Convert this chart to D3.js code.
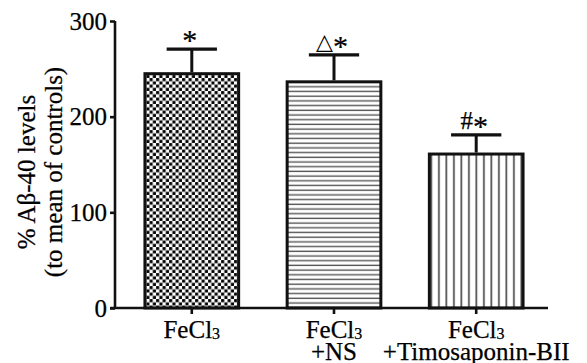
<!DOCTYPE html>
<html lang="en">
<head>
    <meta charset="UTF-8">
    <title>Aβ-40 levels</title>
    <script src="https://cdn.jsdelivr.net/npm/d3@7/dist/d3.min.js"></script>
    <style>
        body { margin: 0; background: #fff; }
        text { font-family: "Liberation Serif", "Times New Roman", "DejaVu Serif", serif; fill: #000; stroke: #000; stroke-width: 0.25px; }
    </style>
</head>
<body>
<svg width="587" height="363" id="chart"></svg>

<script>
    // data
    var groups = ["FeCl3", "FeCl3+NS", "FeCl3+Timosaponin-BII"];
    var labelLine1 = ["FeCl", "FeCl", "FeCl"];
    var labelSub = ["3", "3", "3"];
    var labelLine2 = ["", "+NS", "+Timosaponin-BII"];
    var means = [246.5, 238, 162.5];
    var sems = [24, 26.5, 18.5];
    var marks = ["*", "△*", "#*"];
    var yTicks = [0, 100, 200, 300];
    var patterns = ["checks", "hlines", "vlines"];

    var svg = d3.select("#chart");

    var x = d3.scaleBand()
        .domain(groups)
        .range([115, 553])
        .paddingInner(0.32)
        .paddingOuter(0.2);

    var y = d3.scaleLinear()
        .domain([0, 300])
        .range([308, 21]);

    // 填充图案
    var defs = svg.append("defs");

    var p1 = defs.append("pattern")
        .attr("id", "checks")
        .attr("patternUnits", "userSpaceOnUse")
        .attr("width", 6.5).attr("height", 6.5);
    p1.append("rect").attr("width", 6.5).attr("height", 6.5).attr("fill", "#fff");
    p1.append("rect").attr("x", 0.1).attr("y", 0.1).attr("width", 3.1).attr("height", 3.1).attr("fill", "#000");
    p1.append("rect").attr("x", 3.35).attr("y", 3.35).attr("width", 3.1).attr("height", 3.1).attr("fill", "#000");

    var p2 = defs.append("pattern")
        .attr("id", "hlines")
        .attr("patternUnits", "userSpaceOnUse")
        .attr("width", 10).attr("height", 4.7);
    p2.append("rect").attr("width", 10).attr("height", 4.7).attr("fill", "#fff");
    p2.append("rect").attr("y", 1.5).attr("width", 10).attr("height", 1.4).attr("fill", "#555");

    var p3 = defs.append("pattern")
        .attr("id", "vlines")
        .attr("patternUnits", "userSpaceOnUse")
        .attr("width", 7.5).attr("height", 10);
    p3.append("rect").attr("width", 7.5).attr("height", 10).attr("fill", "#fff");
    p3.append("rect").attr("x", 3).attr("width", 1.8).attr("height", 10).attr("fill", "#555");

    // 误差线
    var err = svg.append("g");
    groups.forEach(function (g, i) {
        var cx = x(g) + x.bandwidth() / 2;
        var capHalf = x.bandwidth() * 0.26;
        err.append("line")
            .attr("x1", cx).attr("x2", cx)
            .attr("y1", y(means[i])).attr("y2", y(means[i] + sems[i]))
            .attr("stroke", "#111").attr("stroke-width", 3);
        err.append("line")
            .attr("x1", cx - capHalf).attr("x2", cx + capHalf)
            .attr("y1", y(means[i] + sems[i])).attr("y2", y(means[i] + sems[i]))
            .attr("stroke", "#111").attr("stroke-width", 3.2);
    });

    // 柱子
    svg.append("g").selectAll("rect")
        .data(groups)
        .enter()
        .append("rect")
        .attr("x", function (d) { return x(d) + 1.5; })
        .attr("y", function (d, i) { return y(means[i]) + 1.5; })
        .attr("width", x.bandwidth() - 3)
        .attr("height", function (d, i) { return y(0) - y(means[i]) - 1.5; })
        .attr("fill", function (d, i) { return "url(#" + patterns[i] + ")"; })
        .attr("stroke", "#111")
        .attr("stroke-width", 3);

    // 显著性标记
    svg.append("g").selectAll("text")
        .data(groups)
        .enter()
        .append("text")
        .attr("x", function (d) { return x(d) + x.bandwidth() / 2 - 2; })
        .attr("y", function (d, i) { return y(means[i] + sems[i]) - 6; })
        .attr("text-anchor", "middle")
        .style("font-size", "25px")
        .each(function (d, i) {
            var t = d3.select(this);
            marks[i].split("").forEach(function (c) {
                if (c === "*") {
                    t.append("tspan").attr("dy", 7).style("font-size", "30px").text(c);
                    t.append("tspan").attr("dy", -7).text("");
                } else if (c === "△") {
                    t.append("tspan").style("font-family", "DejaVu Sans").style("font-size", "22px")
                        .style("stroke-width", 0).text(c);
                } else {
                    t.append("tspan").text(c);
                }
            });
        });

    // y 轴
    var yAxis = svg.append("g")
        .attr("transform", "translate(115,0)")
        .call(d3.axisLeft(y).tickValues(yTicks).tickSize(5).tickPadding(3).tickFormat(d3.format("d")));
    yAxis.select(".domain").attr("stroke", "#111").attr("stroke-width", 2.6)
        .attr("d", "M0," + y(300) + "V" + y(0));
    yAxis.selectAll(".tick line").attr("stroke", "#111").attr("stroke-width", 2.6);
    yAxis.selectAll(".tick text").style("font-size", "25px").attr("fill", "#000")
        .style("font-family", "Liberation Serif, serif");

    // x 轴
    var xAxis = svg.append("g")
        .attr("transform", "translate(0," + y(0) + ")")
        .call(d3.axisBottom(x).tickSize(6).tickFormat(""));
    xAxis.select(".domain").attr("stroke", "#111").attr("stroke-width", 2.6)
        .attr("d", "M110,0H548");
    xAxis.selectAll(".tick line").attr("stroke", "#111").attr("stroke-width", 2.6);

    // x 轴标签
    var xl = svg.append("g").selectAll("text")
        .data(groups)
        .enter()
        .append("text")
        .attr("x", function (d) { return x(d) + x.bandwidth() / 2; })
        .attr("y", 338)
        .attr("text-anchor", "middle")
        .style("font-size", "25px");
    xl.append("tspan").text(function (d, i) { return labelLine1[i]; });
    xl.append("tspan").style("font-size", "16px").attr("dy", 1).text(function (d, i) { return labelSub[i]; });
    xl.append("tspan")
        .attr("x", function (d) { return x(d) + x.bandwidth() / 2; })
        .attr("y", 360)
        .text(function (d, i) { return labelLine2[i]; });

    // y 轴标题
    var yt = svg.append("text")
        .attr("transform", "translate(35,172) rotate(-90)")
        .attr("text-anchor", "middle")
        .style("font-size", "25px");
    yt.append("tspan").attr("x", 0).attr("y", 0).text("% Aβ-40 levels");
    yt.append("tspan").attr("x", 0).attr("y", 27).text("(to mean of controls)");
</script>
</body>
</html>
